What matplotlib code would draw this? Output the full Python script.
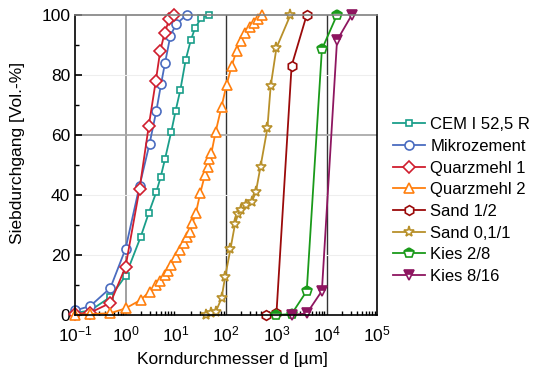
import numpy as np
import matplotlib
matplotlib.use("Agg")
import matplotlib.pyplot as plt
from matplotlib.ticker import LogLocator, MultipleLocator

plt.rcParams['font.family'] = ['Liberation Sans', 'DejaVu Sans']
plt.rcParams['mathtext.default'] = 'regular'

# Korngrößenverteilungen (d in µm, Siebdurchgang in Vol.-%)
cem_d = [0.1, 0.2, 0.5, 1.0, 2.0, 2.9, 4.1, 5.0, 6.1, 8.1, 9.9, 12.3, 15.7, 19.8, 24, 32, 45]
cem_p = [0.7, 1.5, 6, 13, 26, 34, 41, 46, 52, 61, 68, 75, 85, 91.5, 95.5, 99, 100]

mz_d = [0.1, 0.2, 0.5, 1.0, 1.9, 3.0, 4.1, 5.1, 6.1, 7.8, 10.2, 16.6]
mz_p = [1.5, 3, 9, 22, 43, 57, 68, 77, 84, 93, 97, 100]

qm1_d = [0.1, 0.2, 0.5, 1.0, 1.9, 2.9, 4.0, 4.9, 6.0, 7.4, 9.0]
qm1_p = [0.3, 0.8, 4, 16, 42, 63, 78, 88, 94, 98.5, 100]

qm2_d = [0.1, 0.2, 0.5, 1.0, 2.0, 3.0, 4.0, 4.8, 6.0, 7.0, 8.1, 10.2, 11.9, 14.3, 16.7, 18.9,
         21.4, 25, 30.6, 37.9, 43, 46, 51, 62, 81, 102, 128, 161, 194, 235, 296, 354, 432, 526]
qm2_p = [0, 0.3, 0.6, 2.2, 5, 7.8, 10, 11.4, 13.3, 14.8, 16.7, 19.2, 21.7, 23.9, 25.9, 27.8,
         30.6, 33.9, 40.6, 46.7, 49.4, 51.9, 54, 61.1, 69.4, 76.7, 82.8, 88.1, 91.4, 94.1, 96.1, 97.4, 98.6, 99.8]

s12_d = [630, 1000, 2000, 4000]
s12_p = [0, 0.5, 83, 100]

s011_d = [40, 51, 62, 81, 95, 122, 150, 172, 201, 253, 320, 390, 482, 660, 767, 1000, 1900]
s011_p = [0, 0.5, 1, 5.6, 12.5, 22, 30.3, 33.5, 35, 36.5, 37.5, 41, 49.4, 62.2, 76.2, 89, 100]

k28_d = [1000, 2000, 4000, 8000, 16000]
k28_p = [0, 0.3, 8, 88.5, 100]

k816_d = [2000, 4000, 8000, 16000, 31500]
k816_p = [0, 0.5, 8, 91.5, 100]

fig = plt.figure(figsize=(5.41, 3.71), dpi=100)
ax = fig.add_axes([0.139, 0.151, 0.558, 0.809])

# Gitterlinien
ax.axvline(1, color='#999999', lw=1.3, zorder=0)
ax.axvline(100, color='#333333', lw=1.0, zorder=0)
ax.axvline(1e4, color='#333333', lw=1.0, zorder=0)
for yy in [20, 40, 80]:
    ax.axhline(yy, color='#eeeeee', lw=0.8, zorder=0)
ax.axhline(60, color='#aaaaaa', lw=1.3, zorder=0)

kw = dict(lw=1.3, mfc='white', mew=1.2, clip_on=False)
ax.plot(cem_d, cem_p, color='#1a9e8a', marker='s', ms=5, label='CEM I 52,5 R', **kw)
ax.plot(mz_d, mz_p, color='#4a6cc0', marker='o', ms=6.5, label='Mikrozement', **kw)
ax.plot(qm1_d, qm1_p, color='#d01e2e', marker='D', ms=6.5, label='Quarzmehl 1', **kw)
ax.plot(qm2_d, qm2_p, color='#ff7f0e', marker='^', ms=6.5, label='Quarzmehl 2', **kw)
ax.plot(s12_d, s12_p, color='#9b0a0a', marker='h', ms=7, label='Sand 1/2', **kw)
ax.plot(s011_d, s011_p, color='#b8902a', marker='*', ms=8, label='Sand 0,1/1', **kw)
ax.plot(k28_d, k28_p, color='#1a9a1a', marker='p', ms=7, fillstyle='top',
        markerfacecoloralt='white', lw=1.3, mew=1.2, clip_on=False, label='Kies 2/8')
ax.plot(k816_d, k816_p, color='#8e1660', marker='v', ms=7, fillstyle='top',
        markerfacecoloralt='white', lw=1.3, mew=1.2, clip_on=False, label='Kies 8/16')

ax.set_xscale('log')
ax.set_xlim(0.1, 1e5)
ax.set_ylim(0, 100)
ax.xaxis.set_major_locator(LogLocator(base=10, numticks=10))
ax.xaxis.set_minor_locator(LogLocator(base=10, subs=np.arange(2, 10), numticks=10))
ax.yaxis.set_major_locator(MultipleLocator(20))
ax.yaxis.set_minor_locator(MultipleLocator(10))
ax.tick_params(which='both', direction='in', labelsize=12.5, top=False, right=False)
ax.tick_params(which='major', length=5, width=1.2)
ax.tick_params(which='minor', length=3, width=1.0)
ax.tick_params(axis='x', which='major', length=0, pad=7)

for s in ['left', 'bottom', 'right']:
    ax.spines[s].set_linewidth(1.2)
    ax.spines[s].set_color('black')
ax.spines['top'].set_color('#808080')
ax.spines['top'].set_linewidth(1.2)

ax.set_xlabel('Korndurchmesser d [µm]', fontsize=12.5)
ax.set_ylabel('Siebdurchgang [Vol.-%]', fontsize=12.5)
ax.xaxis.set_label_coords(0.52, -0.125)
ax.yaxis.set_label_coords(-0.165, 0.54)

ax.legend(loc='upper left', bbox_to_anchor=(0.715, 0.702), bbox_transform=fig.transFigure,
          frameon=False, fontsize=12, handlelength=1.9, handletextpad=0.3,
          labelspacing=0.4, borderaxespad=0)

fig.savefig('out.png', dpi=100)
